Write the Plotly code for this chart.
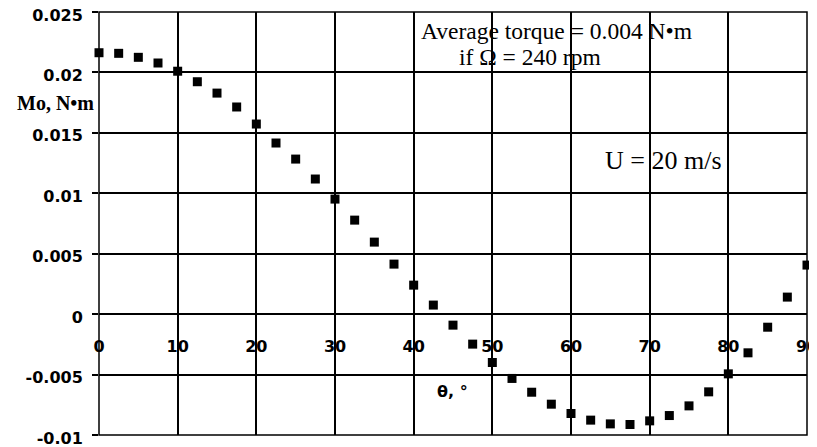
import plotly.graph_objects as go

theta_deg = [0, 2.5, 5, 7.5, 10, 12.5, 15, 17.5, 20, 22.5, 25, 27.5, 30, 32.5, 35, 37.5,
             40, 42.5, 45, 47.5, 50, 52.5, 55, 57.5, 60, 62.5, 65, 67.5, 70, 72.5, 75,
             77.5, 80, 82.5, 85, 87.5, 90]
torque_Nm = [0.02163, 0.02158, 0.02125, 0.02078, 0.0201, 0.01923, 0.01829, 0.01714,
             0.01573, 0.01416, 0.01283, 0.01118, 0.00952, 0.00778, 0.00596, 0.00414,
             0.0024, 0.00075, -0.00091, -0.00248, -0.0040, -0.00532, -0.00646, -0.00745,
             -0.00822, -0.00877, -0.00908, -0.00913, -0.00883, -0.00839, -0.00759,
             -0.00643, -0.00494, -0.0032, -0.00108, 0.00141, 0.00406]

x_tick_vals = [0, 10, 20, 30, 40, 50, 60, 70, 80, 90]
x_tick_text = ["0", "10", "20", "30", "40", "50", "60", "70", "80", "90"]
y_tick_vals = [0.025, 0.02, 0.015, 0.01, 0.005, 0, -0.005, -0.01]
y_tick_text = ["0.025", "0.02", "0.015", "0.01", "0.005", "0", "-0.005", "-0.01"]

fig = go.Figure()
fig.add_trace(go.Scatter(
    x=theta_deg, y=torque_Nm, mode="markers",
    marker=dict(symbol="square", size=9, color="black"),
    cliponaxis=False, showlegend=False,
))

tick_font = dict(family="DejaVu Sans", size=16, color="black", weight="bold")

fig.update_layout(
    width=817, height=439,
    margin=dict(l=91, r=18, t=4, b=12, autoexpand=False),
    paper_bgcolor="white", plot_bgcolor="white",
    xaxis=dict(
        range=[0, 90], tickvals=x_tick_vals, ticktext=x_tick_text,
        showgrid=True, gridcolor="black", gridwidth=1.5,
        zeroline=False, showline=False, ticks="",
        anchor="free", position=0.236, automargin=False,
        ticklabeloverflow="allow",
        tickfont=tick_font,
    ),
    yaxis=dict(
        range=[-0.01, 0.025], tickvals=y_tick_vals, ticktext=y_tick_text,
        showgrid=True, gridcolor="black", gridwidth=1.5,
        zeroline=False, showline=False, automargin=False,
        ticks="outside", ticklen=6, tickwidth=1.5, tickcolor="black",
        ticklabelstandoff=6, ticklabelshift=3, ticklabeloverflow="allow",
        tickfont=tick_font,
    ),
    shapes=[dict(type="rect", xref="paper", yref="paper", x0=0, x1=1, y0=0, y1=1,
                 line=dict(color="black", width=1.5), layer="above")],
    annotations=[
        dict(text="<b>Mo, N•m</b>", xref="paper", yref="paper", x=-0.062, y=0.815,
             xanchor="center", showarrow=False,
             font=dict(family="Liberation Serif", size=20, color="black")),
        dict(text="Average torque = 0.004 N•m", x=58.1, y=0.02343, xanchor="center",
             showarrow=False, font=dict(family="Liberation Serif", size=23.5, color="black")),
        dict(text="if Ω = 240 rpm", x=54.8, y=0.02127, xanchor="center", showarrow=False,
             font=dict(family="Liberation Serif", size=23.5, color="black")),
        dict(text="U = 20 m/s", x=71.7, y=0.01275, xanchor="center", showarrow=False,
             font=dict(family="Liberation Serif", size=26, color="black")),
        dict(text="<b>θ, °</b>", x=44.9, y=-0.0064, xanchor="center", showarrow=False,
             font=dict(family="DejaVu Sans", size=16, color="black")),
    ],
)

fig.write_html("out.html")
